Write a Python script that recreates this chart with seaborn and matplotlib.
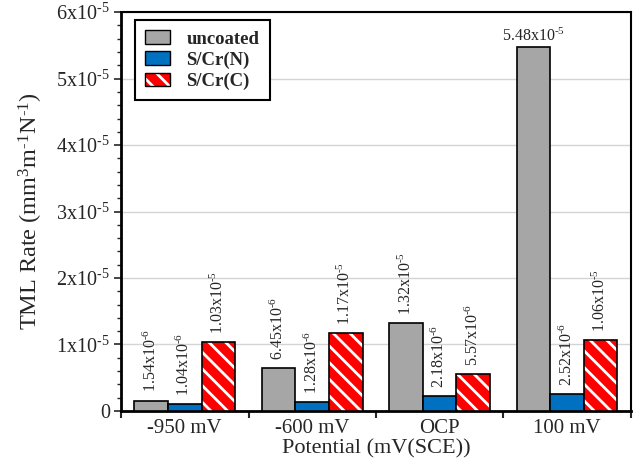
import numpy as np
import pandas as pd
import seaborn as sns
import matplotlib
matplotlib.use('Agg')
import matplotlib.pyplot as plt
from matplotlib.patches import Patch
from matplotlib.ticker import FixedLocator, MultipleLocator

# data
potentials = ['-950 mV', '-600 mV', 'OCP', '100 mV']
coatings = ['uncoated', 'S/Cr(N)', 'S/Cr(C)']
uncoated = [1.54e-6, 6.45e-6, 1.32e-5, 5.48e-5]
scr_n = [1.04e-6, 1.28e-6, 2.18e-6, 2.52e-6]
scr_c = [1.03e-5, 1.17e-5, 5.57e-6, 1.06e-5]
ytick_vals = [0, 1e-5, 2e-5, 3e-5, 4e-5, 5e-5, 6e-5]
ytick_labels = ['0', '1x10$^{\\text{-5}}$', '2x10$^{\\text{-5}}$', '3x10$^{\\text{-5}}$',
                '4x10$^{\\text{-5}}$', '5x10$^{\\text{-5}}$', '6x10$^{\\text{-5}}$']
colors = ['#a6a6a6', '#0070c0', '#ff0000']

sns.set_style('white')
plt.rcParams['font.family'] = ['Liberation Serif', 'DejaVu Serif']
plt.rcParams['mathtext.fontset'] = 'custom'
plt.rcParams['mathtext.rm'] = 'Liberation Serif'
plt.rcParams['mathtext.it'] = 'Liberation Serif:italic'
plt.rcParams['mathtext.bf'] = 'Liberation Serif:bold'
plt.rcParams['hatch.linewidth'] = 2.0

df = pd.DataFrame({
    'Potential': potentials * 3,
    'Coating': [c for c in coatings for _ in potentials],
    'Rate': uncoated + scr_n + scr_c,
})


def sci(v):
    m, e = f'{v:.2e}'.split('e')
    return f'{m}x10$^{{\\text{{{int(e)}}}}}$'


fig, ax = plt.subplots(figsize=(6.34, 4.69), dpi=100)
fig.subplots_adjust(left=0.191, right=0.995, top=0.974, bottom=0.124)

sns.barplot(data=df, x='Potential', y='Rate', hue='Coating', order=potentials,
            hue_order=coatings, palette=colors, saturation=1, edgecolor='black',
            linewidth=1.2, width=0.79, legend=False, ax=ax, zorder=3)

# hatched red bars: white stripes, black outline on top
hatch = '\\\\'
for bar in ax.containers[2]:
    bar.set_edgecolor('white')
    bar.set_hatch(hatch)
    bar.set_linewidth(0)
    ax.add_patch(plt.Rectangle(bar.get_xy(), bar.get_width(), bar.get_height(),
                               fill=False, edgecolor='black', linewidth=1.2, zorder=4))

# value labels
for cont, vals in zip(ax.containers, [uncoated, scr_n, scr_c]):
    for bar, v in zip(cont, vals):
        x = bar.get_x() + bar.get_width() / 2
        if v > 5e-5:
            ax.annotate(sci(v), (x, v), xytext=(0, 1), textcoords='offset points',
                        ha='center', va='bottom', fontsize=11.5)
        else:
            ax.annotate(sci(v), (x, v), xytext=(0, 6), textcoords='offset points',
                        ha='center', va='bottom', rotation=90, fontsize=11.5)

ax.set_ylim(0, 6e-5)
ax.set_xlim(-0.5, 3.5)
ax.yaxis.set_major_locator(FixedLocator(ytick_vals))
ax.set_yticklabels(ytick_labels, fontsize=14.5)
ax.yaxis.set_minor_locator(MultipleLocator(2e-6))
ax.tick_params(axis='y', which='major', length=5, width=1.2, direction='out', left=True, pad=3)
ax.tick_params(axis='y', which='minor', length=3, width=1, direction='out', left=True)
ax.set_xticks(range(len(potentials)))
ax.set_xticklabels(potentials, fontsize=15)
ax.xaxis.set_minor_locator(FixedLocator([-0.5, 0.5, 1.5, 2.5, 3.5]))
ax.tick_params(axis='x', which='major', length=0, pad=6)
ax.tick_params(axis='x', which='minor', length=5, width=1.5, direction='out', bottom=True)
ax.grid(axis='y', color='#d4d4d4', linewidth=1, zorder=0)
ax.set_axisbelow(True)
for side in ['left', 'bottom']:
    ax.spines[side].set_linewidth(2)
for side in ['top', 'right']:
    ax.spines[side].set_linewidth(1.5)
for s in ax.spines.values():
    s.set_color('black')

ax.set_xlabel('Potential (mV(SCE))', fontsize=16, labelpad=1)
ax.set_ylabel('TML Rate (mm$^3$m$^{\\text{-1}}$N$^{\\text{-1}}$)', fontsize=17.5, labelpad=8)

handles = [Patch(facecolor=colors[0], edgecolor='black', linewidth=1),
           Patch(facecolor=colors[1], edgecolor='black', linewidth=1),
           (Patch(facecolor=colors[2], edgecolor='white', hatch=hatch, linewidth=0),
            Patch(fill=False, edgecolor='black', linewidth=1))]
leg = ax.legend(handles, coatings, loc='upper left', bbox_to_anchor=(0.027, 0.98),
                borderaxespad=0, fancybox=False, framealpha=1, edgecolor='black',
                prop={'weight': 'bold', 'size': 13.5}, handlelength=1.35, handleheight=0.7,
                labelspacing=0.2, handletextpad=0.85, borderpad=0.55)
leg.get_frame().set_linewidth(1.5)

plt.savefig('out.png', dpi=100)
